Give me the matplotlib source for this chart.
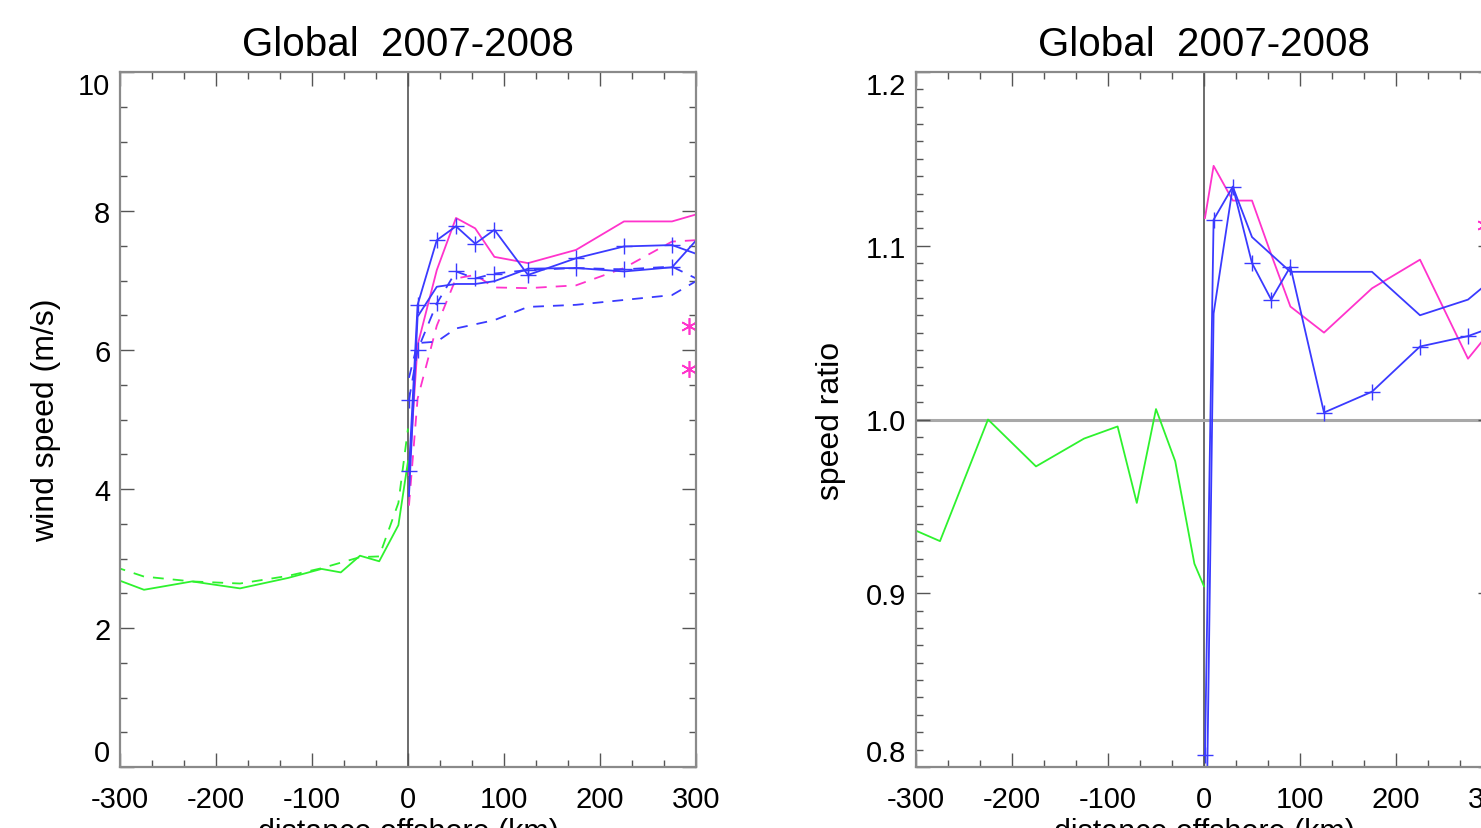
import matplotlib
matplotlib.use('Agg')
import matplotlib.pyplot as plt
from matplotlib.ticker import MultipleLocator, FormatStrFormatter

plt.rcParams['font.family'] = ['Liberation Sans', 'DejaVu Sans']
plt.rcParams['axes.unicode_minus'] = False

# ---------------- data ----------------
land_x = [-325, -275, -225, -175, -125, -90, -70, -50, -30, -10, 0]
off_x = [1, 10, 30, 50, 70, 90, 125, 175, 225, 275, 325]

# wind speed (m/s)
green_solid = [2.81, 2.55, 2.67, 2.57, 2.72, 2.85, 2.80, 3.04, 2.96, 3.48, 4.40]
green_dashed = [2.97, 2.74, 2.67, 2.64, 2.75, 2.86, 2.94, 3.02, 3.03, 3.80, 4.87]
magenta_solid = [4.20, 6.07, 7.15, 7.90, 7.75, 7.34, 7.25, 7.44, 7.85, 7.85, 8.05]
magenta_dashed = [3.76, 5.30, 6.35, 7.03, 7.08, 6.90, 6.89, 6.93, 7.18, 7.56, 7.60]
blue_plus_solid = [4.26, 6.65, 7.58, 7.78, 7.53, 7.73, 7.08, 7.32, 7.49, 7.51, 7.26]
blue_plus_dashed = [5.28, 6.00, 6.67, 7.13, 7.03, 7.10, 7.15, 7.18, 7.16, 7.20, 6.86]
blue_solid = [3.90, 6.48, 6.91, 6.95, 6.95, 6.99, 7.17, 7.18, 7.13, 7.19, 7.96]
blue_dashed = [5.60, 6.10, 6.12, 6.31, 6.37, 6.43, 6.62, 6.65, 6.72, 6.79, 7.19]
star_x = [293, 293]
star_speed = [6.34, 5.73]

# speed ratio
green_ratio = [0.942, 0.930, 1.000, 0.973, 0.989, 0.996, 0.952, 1.006, 0.976, 0.917, 0.904]
magenta_ratio = [1.116, 1.146, 1.126, 1.126, 1.095, 1.065, 1.050, 1.0755, 1.092, 1.035, 1.069]
blue_plus_ratio = [0.807, 1.115, 1.134, 1.090, 1.069, 1.088, 1.004, 1.016, 1.042, 1.048, 1.058]
blue_ratio = [0.700, 1.061, 1.134, 1.105, 1.095, 1.085, 1.085, 1.085, 1.060, 1.069, 1.092]
star_ratio_x = [293]
star_ratio = [1.112]

title_text = 'Global  2007-2008'
x_ticks = [-300, -200, -100, 0, 100, 200, 300]

# ---------------- style ----------------
GREEN = '#2ef22e'
MAGENTA = '#ff33cc'
BLUE = '#3a3aff'
FRAME = '#8a8a8a'
LW = 1.3
DASH = (0, (6, 5))

fig = plt.figure(figsize=(14.81, 8.29), dpi=100)
W, H = 1481.0, 829.0
ax1 = fig.add_axes([120 / W, (H - 768) / H, 576 / W, 695 / H])
ax2 = fig.add_axes([916 / W, (H - 768) / H, 576 / W, 695 / H])


def style(ax):
    ax.set_xlim(-300, 300)
    ax.xaxis.set_major_locator(plt.FixedLocator(x_ticks))
    ax.xaxis.set_minor_locator(MultipleLocator(100 / 3))
    for s in ax.spines.values():
        s.set_color(FRAME)
        s.set_linewidth(1.6)
    ax.tick_params(which='both', direction='in', top=True, right=True,
                   color='#555555', width=1.0)
    ax.tick_params(which='major', length=10)
    ax.tick_params(which='minor', length=5)
    ax.tick_params(axis='x', which='major', labelsize=21, pad=13)
    ax.tick_params(axis='y', which='major', labelsize=21, pad=7)
    ax.set_title(title_text, fontsize=29, pad=12)
    ax.set_xlabel('distance offshore (km)', fontsize=22)
    ax.xaxis.set_label_coords(0.5, -0.072)


# ---------------- left panel ----------------
style(ax1)
ax1.set_ylim(0, 10)
ax1.yaxis.set_major_locator(MultipleLocator(2))
ax1.yaxis.set_minor_locator(MultipleLocator(0.5))
ax1.yaxis.set_major_formatter(FormatStrFormatter('%d'))
ax1.set_ylabel('wind speed (m/s)', fontsize=23)
ax1.yaxis.set_label_coords(-0.102, 0.5)
ax1.axvline(0, color='#444444', lw=1.1, zorder=1)

ax1.plot(land_x, green_solid, color=GREEN, lw=LW)
ax1.plot(land_x, green_dashed, color=GREEN, lw=LW, ls=DASH)
ax1.plot(off_x, magenta_solid, color=MAGENTA, lw=LW)
ax1.plot(off_x, magenta_dashed, color=MAGENTA, lw=LW, ls=DASH)
ax1.plot(off_x, blue_plus_solid, color=BLUE, lw=LW, marker='+', ms=12, mew=1.0)
ax1.plot(off_x, blue_plus_dashed, color=BLUE, lw=LW, ls=DASH, marker='+', ms=12, mew=1.0)
ax1.plot(off_x, blue_solid, color=BLUE, lw=LW)
ax1.plot(off_x, blue_dashed, color=BLUE, lw=LW, ls=DASH)
ax1.plot(star_x, star_speed, ls='none', color=MAGENTA, marker=(6, 2, 0), ms=12, mew=1.2)

# ---------------- right panel ----------------
style(ax2)
ax2.set_ylim(0.8, 1.2)
ax2.yaxis.set_major_locator(MultipleLocator(0.1))
ax2.yaxis.set_minor_locator(MultipleLocator(0.01))
ax2.yaxis.set_major_formatter(FormatStrFormatter('%.1f'))
ax2.set_ylabel('speed ratio', fontsize=23)
ax2.yaxis.set_label_coords(-0.122, 0.5)
ax2.axvline(0, color='#444444', lw=1.1, zorder=1)
ax2.axhline(1.0, color='#a8a8a8', lw=2.2, zorder=1)

ax2.plot(land_x, green_ratio, color=GREEN, lw=LW)
ax2.plot(off_x, magenta_ratio, color=MAGENTA, lw=LW)
ax2.plot(off_x, blue_plus_ratio, color=BLUE, lw=LW, marker='+', ms=12, mew=1.0)
ax2.plot(off_x, blue_ratio, color=BLUE, lw=LW)
ax2.plot(star_ratio_x, star_ratio, ls='none', color=MAGENTA, marker=(6, 2, 0), ms=12, mew=1.2)

# nudge the end y-tick labels inward, as in the reference
fig.canvas.draw()
for ax in (ax1, ax2):
    lo, hi = ax.get_ylim()
    eps = (hi - lo) * 1e-3
    for t in ax.yaxis.get_major_ticks():
        if abs(t.get_loc() - lo) < eps:
            t.label1.set_va('bottom')
        elif abs(t.get_loc() - hi) < eps:
            t.label1.set_va('top')

fig.savefig('out.png', dpi=100)
